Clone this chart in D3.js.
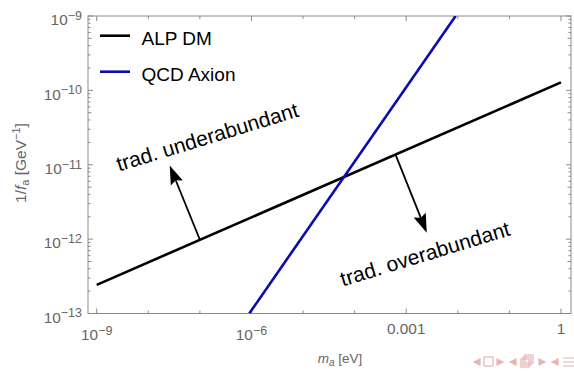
<!DOCTYPE html>
<html><head><meta charset="utf-8">
<script src="https://cdn.jsdelivr.net/npm/d3@7"></script>
<style>
html,body{margin:0;padding:0;background:#fff;}
svg{display:block;font-family:"Liberation Sans",Arial,sans-serif;}
</style></head>
<body>
<svg id="chart" width="574" height="372"></svg>
<script>
// ---- data ----
const alpMass = [1e-9, 1];
const alpInvF = [2.43e-13, 1.28e-10];
const qcdMass = [9.06e-7, 9.06e-3];
const qcdInvF = [1e-13, 1e-9];
const seriesNames = ["ALP DM", "QCD Axion"];
const seriesColors = ["#000000", "#0b0bb0"];
const xTickLabels = [{v:1e-9, b:"10", e:"−9"}, {v:1e-6, b:"10", e:"−6"}, {v:1e-3, b:"0.001", e:""}, {v:1, b:"1", e:""}];
const yTickLabels = [{v:1e-9, e:"−9"}, {v:1e-10, e:"−10"}, {v:1e-11, e:"−11"}, {v:1e-12, e:"−12"}, {v:1e-13, e:"−13"}];
const arrowFrom = [[1e-7, 9.8e-13], [6.2e-4, 1.37e-11]];
const arrowTo = [[2.6e-8, 9.8e-12], [2.5e-3, 1.22e-12]];
const regionLabels = [{t:"trad. underabundant", m:2.7e-9, f:8.1e-12}, {t:"trad. overabundant", m:5.9e-5, f:2.3e-13}];

// ---- layout ----
const L = 88, R = 571, T = 16, B = 313.5;
const x = d3.scaleLog().domain([Math.pow(10,-9.169), Math.pow(10,0.194)]).range([L, R]);
const y = d3.scaleLog().domain([1e-13, 1e-9]).range([B, T]);
const svg = d3.select("#chart");
const gray = "#8a8a8a", labGray = "#666";

svg.append("defs").append("clipPath").attr("id","clip")
  .append("rect").attr("x",L).attr("y",T).attr("width",R-L).attr("height",B-T);

// frame
svg.append("rect").attr("x",L).attr("y",T).attr("width",R-L).attr("height",B-T)
  .attr("fill","none").attr("stroke",gray).attr("stroke-width",1);

// x ticks (every decade), majors every 3
const xt = d3.range(-9, 1).map(e => Math.pow(10, e));
xt.forEach((v, i) => {
  const len = (i % 3 === 0) ? 5 : 3;
  const px = x(v);
  svg.append("line").attr("x1",px).attr("x2",px).attr("y1",B).attr("y2",B-len).attr("stroke",gray);
  svg.append("line").attr("x1",px).attr("x2",px).attr("y1",T).attr("y2",T+len).attr("stroke",gray);
});
// y ticks
for (let e = -13; e <= -9; e++) {
  for (let k = 1; k <= 9; k++) {
    const v = k * Math.pow(10, e);
    if (v > 1.0001e-9) break;
    const len = k === 1 ? 5 : (k === 5 ? 3.5 : 2.5);
    const py = y(v);
    svg.append("line").attr("x1",L).attr("x2",L+len).attr("y1",py).attr("y2",py).attr("stroke",gray);
    svg.append("line").attr("x1",R).attr("x2",R-len).attr("y1",py).attr("y2",py).attr("stroke",gray);
  }
}

// x tick labels
xTickLabels.forEach(d => {
  const t = svg.append("text").attr("x", x(d.v)).attr("text-anchor","middle")
    .attr("fill",labGray).attr("font-size",15.4);
  if (d.e) {
    t.attr("y", 340);
    t.append("tspan").text(d.b);
    t.append("tspan").attr("font-size",12.5).attr("dy",-5.5).text(d.e);
  } else {
    t.attr("y", 334.3).text(d.b);
  }
});
// y tick labels
yTickLabels.forEach(d => {
  const t = svg.append("text").attr("x", 82).attr("y", y(d.v) + 9.3).attr("text-anchor","end")
    .attr("fill",labGray).attr("font-size",15.4);
  t.append("tspan").text("10");
  t.append("tspan").attr("font-size",12.5).attr("dy",-5.5).text(d.e);
});

// axis titles
const xl = svg.append("text").attr("x",340).attr("y",362.5).attr("text-anchor","middle")
  .attr("fill",labGray).attr("font-size",13.5);
xl.append("tspan").attr("font-style","italic").text("m");
xl.append("tspan").attr("font-size",10).attr("font-style","italic").attr("dy",3).text("a");
xl.append("tspan").attr("dy",-3).text(" [eV]");

const yl = svg.append("text").attr("transform","translate(26,163) rotate(-90)")
  .attr("text-anchor","middle").attr("fill",labGray).attr("font-size",15.5);
yl.append("tspan").text("1/");
yl.append("tspan").attr("font-style","italic").text("f");
yl.append("tspan").attr("font-size",11).attr("dy",3).text("a");
yl.append("tspan").attr("dy",-3).text("  [GeV");
yl.append("tspan").attr("font-size",11).attr("dy",-6).text("−1");
yl.append("tspan").attr("dy",6).text("]");

// lines
const line = d3.line().x(d => x(d[0])).y(d => y(d[1]));
const plot = svg.append("g").attr("clip-path","url(#clip)");
plot.append("path").datum(d3.zip(alpMass, alpInvF)).attr("d", line)
  .attr("fill","none").attr("stroke",seriesColors[0]).attr("stroke-width",2.6);
plot.append("path").datum(d3.zip(qcdMass, qcdInvF)).attr("d", line)
  .attr("fill","none").attr("stroke",seriesColors[1]).attr("stroke-width",2.6);

// arrows
arrowFrom.forEach((f, i) => {
  const x0 = x(f[0]), y0 = y(f[1]), x1 = x(arrowTo[i][0]), y1 = y(arrowTo[i][1]);
  const dx = x1 - x0, dy = y1 - y0, len = Math.hypot(dx, dy);
  const ux = dx/len, uy = dy/len, nx = -uy, ny = ux;
  const hl = 19, hw = 6.5, notch = 3;
  const bx = x1 - ux*hl, by = y1 - uy*hl;
  svg.append("line").attr("x1",x0).attr("y1",y0).attr("x2",bx+ux*notch).attr("y2",by+uy*notch)
    .attr("stroke","#000").attr("stroke-width",1.8);
  svg.append("path").attr("d", `M${x1},${y1} L${bx+nx*hw},${by+ny*hw} L${bx+ux*notch},${by+uy*notch} L${bx-nx*hw},${by-ny*hw} Z`)
    .attr("fill","#000");
});

// region labels
regionLabels.forEach(d => {
  svg.append("text").attr("transform",`translate(${x(d.m)},${y(d.f)}) rotate(-17)`)
    .attr("font-size",21).attr("fill","#000").text(d.t);
});

// legend
seriesNames.forEach((n, i) => {
  const ly = 35.7 + i*36;
  svg.append("line").attr("x1",100).attr("x2",130).attr("y1",ly).attr("y2",ly)
    .attr("stroke",seriesColors[i]).attr("stroke-width",2.6);
  svg.append("text").attr("x",141.5).attr("y",ly+9.3).attr("font-size",19).attr("fill","#000").text(n);
});

// beamer navigation symbols (decorative)
const nav = svg.append("g").attr("fill","none").attr("stroke","#e7b4b4").attr("stroke-width",1.2);
nav.append("path").attr("d","M474,362 L480,359 L480,365 Z").attr("fill","#e7b4b4");
nav.append("rect").attr("x",484).attr("y",357).attr("width",9).attr("height",9);
nav.append("path").attr("d","M503,362 L497,359 L497,365 Z").attr("fill","#e7b4b4");
nav.append("path").attr("d","M510,362 L516,359 L516,365 Z").attr("fill","#e7b4b4");
nav.append("rect").attr("x",521).attr("y",359).attr("width",8).attr("height",8);
nav.append("rect").attr("x",523).attr("y",357).attr("width",8).attr("height",8);
nav.append("rect").attr("x",525).attr("y",355).attr("width",8).attr("height",8);
nav.append("path").attr("d","M545,362 L539,359 L539,365 Z").attr("fill","#e7b4b4");
nav.append("path").attr("d","M552,362 L558,359 L558,365 Z").attr("fill","#e7b4b4");
nav.append("path").attr("d","M563,358 H574 M563,362 H574 M563,366 H574");
</script>
</body></html>
